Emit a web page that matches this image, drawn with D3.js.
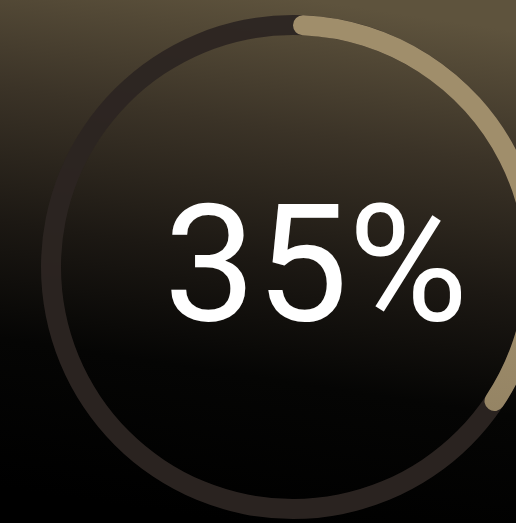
<!DOCTYPE html>
<html>
<head>
<meta charset="utf-8">
<script src="https://cdn.jsdelivr.net/npm/d3@7"></script>
<style>
  html, body { margin: 0; padding: 0; background: #000; overflow: hidden; }
</style>
</head>
<body>
<div class="gauge-container"></div>
<script>
// gauge values
const value = 35;
const domainMax = [0, 100];
const label = `${value}%`;

const outerW = 516,
  outerH = 523;

const cx = 293,
  cy = 267,
  outerR = 252,
  thickness = 20;

const svg = d3.select('.gauge-container').append('svg')
  .attr('width', outerW)
  .attr('height', outerH);

const defs = svg.append('defs');

const bg = defs.append('linearGradient')
  .attr('id', 'bg')
  .attr('x1', '0.6').attr('y1', '0')
  .attr('x2', '0.45').attr('y2', '1');
bg.append('stop').attr('offset', '0%').attr('stop-color', '#5e533d');
bg.append('stop').attr('offset', '25%').attr('stop-color', '#3b3327');
bg.append('stop').attr('offset', '50%').attr('stop-color', '#1c1813');
bg.append('stop').attr('offset', '72%').attr('stop-color', '#050504');
bg.append('stop').attr('offset', '100%').attr('stop-color', '#000');

const prog = defs.append('linearGradient')
  .attr('id', 'prog')
  .attr('gradientUnits', 'userSpaceOnUse')
  .attr('x1', 0).attr('y1', cy - outerR)
  .attr('x2', 0).attr('y2', cy + outerR * 0.6);
prog.append('stop').attr('offset', '0%').attr('stop-color', '#a08e6b');
prog.append('stop').attr('offset', '100%').attr('stop-color', '#7d6f56');

svg.append('rect')
  .attr('width', outerW)
  .attr('height', outerH)
  .attr('fill', 'url(#bg)');

const angle = d3.scaleLinear()
  .domain(domainMax)
  .range([0, 2 * Math.PI]);

const arc = d3.arc()
  .innerRadius(outerR - thickness)
  .outerRadius(outerR)
  .cornerRadius(thickness / 2);

const g = svg.append('g')
  .attr('transform', `translate(${cx}, ${cy})`);

// track
g.append('path')
  .attr('d', arc({ startAngle: angle(domainMax[0]), endAngle: angle(domainMax[1]) }))
  .attr('fill', '#2c2522')
  .attr('opacity', 0.95);

// progress
g.append('path')
  .attr('d', arc({ startAngle: angle(0), endAngle: angle(value) }))
  .attr('fill', 'url(#prog)');

svg.append('text')
  .attr('x', 316)
  .attr('y', 320)
  .attr('text-anchor', 'middle')
  .style('font-family', 'Roboto, "Liberation Sans", sans-serif')
  .style('font-weight', 400)
  .style('font-size', '164px')
  .attr('fill', '#fff')
  .text(label);
</script>
</body>
</html>
